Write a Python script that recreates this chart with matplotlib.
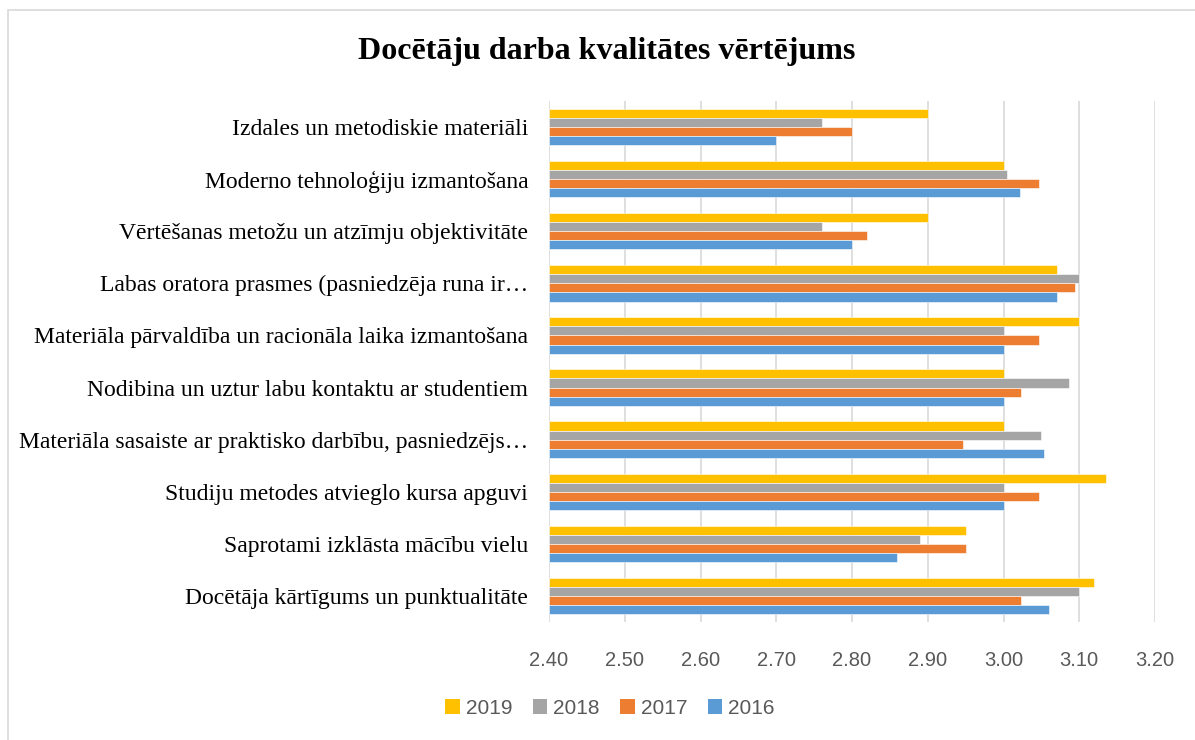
import matplotlib.pyplot as plt
import matplotlib as mpl
import numpy as np
from matplotlib.patches import Patch, Rectangle

categories = [
    "Izdales un metodiskie materiāli",
    "Moderno tehnoloģiju izmantošana",
    "Vērtēšanas metožu un atzīmju objektivitāte",
    "Labas oratora prasmes (pasniedzēja runa ir…",
    "Materiāla pārvaldība un racionāla laika izmantošana",
    "Nodibina un uztur labu kontaktu ar studentiem",
    "Materiāla sasaiste ar praktisko darbību, pasniedzējs…",
    "Studiju metodes atvieglo kursa apguvi",
    "Saprotami izklāsta mācību vielu",
    "Docētāja kārtīgums un punktualitāte",
]
years = ["2019", "2018", "2017", "2016"]
v2019 = [2.90, 3.00, 2.90, 3.07, 3.10, 3.00, 3.00, 3.135, 2.95, 3.12]
v2018 = [2.76, 3.004, 2.76, 3.10, 3.00, 3.086, 3.05, 3.00, 2.89, 3.10]
v2017 = [2.80, 3.047, 2.82, 3.095, 3.047, 3.023, 2.946, 3.047, 2.95, 3.023]
v2016 = [2.70, 3.022, 2.80, 3.071, 3.00, 3.00, 3.054, 3.00, 2.86, 3.06]
ticks = [2.40, 2.50, 2.60, 2.70, 2.80, 2.90, 3.00, 3.10, 3.20]

colors = {"2019": "#FFC000", "2018": "#A5A5A5", "2017": "#ED7D31", "2016": "#5B9BD5"}
base = 2.40

mpl.rcParams["font.family"] = ["Liberation Serif", "DejaVu Serif"]
sans = ["Liberation Sans", "DejaVu Sans"]

fig = plt.figure(figsize=(11.95, 7.4), dpi=100)
ax = fig.add_axes([549 / 1195, 1 - 622 / 740, (1155 - 549) / 1195, (622 - 101) / 740])

y = np.arange(len(categories))
h = 0.175
series = [v2019, v2018, v2017, v2016]
for i, (yr, vals) in enumerate(zip(years, series)):
    offs = (i - 1.5) * h
    ax.barh(y + offs, np.array(vals) - base, left=base, height=h,
            color=colors[yr], edgecolor="white", linewidth=0.4, zorder=3)

ax.set_xlim(2.40, 3.20)
ax.set_ylim(len(categories) - 0.5, -0.5)
ax.set_xticks(ticks, labels=[f"{t:.2f}" for t in ticks],
              fontfamily=sans, fontsize=14.5, color="#595959")
ax.set_yticks(y, labels=categories, fontsize=17, color="black")
ax.tick_params(axis="both", length=0)
ax.tick_params(axis="x", pad=21)
ax.tick_params(axis="y", pad=15)
ax.grid(axis="x", color="#D9D9D9", linewidth=1.2, zorder=0)
for s in ax.spines.values():
    s.set_visible(False)

fig.text(607 / 1195, 1 - 51 / 740, "Docētāju darba kvalitātes vērtējums",
         ha="center", va="center", fontsize=23, fontweight="bold")

handles = [Patch(facecolor=colors[yr], label=yr) for yr in years]
fig.legend(handles=handles, loc="center", bbox_to_anchor=(610 / 1195, 1 - 708 / 740),
           ncol=4, frameon=False, handlelength=0.7, handleheight=0.7,
           handletextpad=0.3, columnspacing=0.97,
           prop={"family": sans, "size": 15},
           labelcolor="#595959")

fig.patches.append(Rectangle((8 / 1195, -0.01), 1.02, 1 - 10 / 740 + 0.01,
                             transform=fig.transFigure, fill=False,
                             edgecolor="#D9D9D9", linewidth=1.2))

fig.savefig("out.png", dpi=100)
